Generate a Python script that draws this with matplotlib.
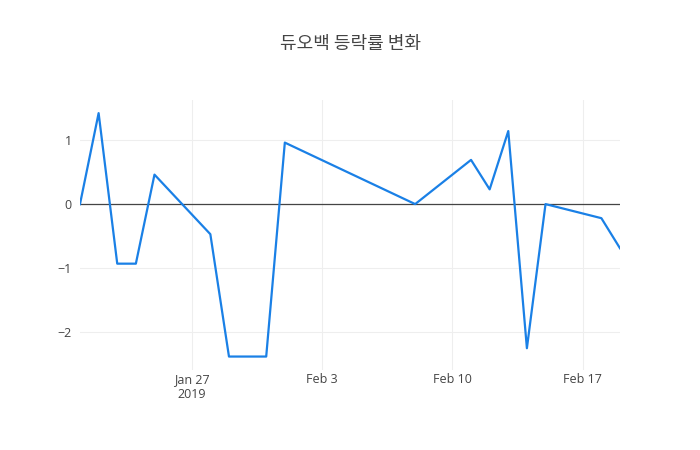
import matplotlib
matplotlib.use('Agg')
import matplotlib.pyplot as plt
import pandas as pd

dates = ['2019-01-21', '2019-01-22', '2019-01-23', '2019-01-24', '2019-01-25',
         '2019-01-28', '2019-01-29', '2019-01-31', '2019-02-01', '2019-02-08',
         '2019-02-11', '2019-02-12', '2019-02-13', '2019-02-14', '2019-02-15',
         '2019-02-18', '2019-02-19']
change = [0.0, 1.42, -0.93, -0.93, 0.46,
          -0.47, -2.38, -2.38, 0.96, 0.0,
          0.69, 0.23, 1.14, -2.25, 0.0,
          -0.22, -0.69]
tick_dates = ['2019-01-27', '2019-02-03', '2019-02-10', '2019-02-17']
tick_labels = ['Jan 27\n2019', 'Feb 3', 'Feb 10', 'Feb 17']
y_ticks = [-2, -1, 0, 1]

plt.rcParams['font.family'] = ['Open Sans', 'Noto Sans CJK KR', 'DejaVu Sans']

x = pd.to_datetime(dates)

fig = plt.figure(figsize=(7, 4.5), dpi=100)
ax = fig.add_axes([80 / 700, 1 - 370 / 450, 540 / 700, 270 / 450])

ax.plot(x, change, color='#1a80e6', linewidth=1.6, zorder=3)
ax.axhline(0, color='#444444', linewidth=0.9, zorder=2)

ax.set_xlim(x[0], x[-1])
ax.set_ylim(-2.59, 1.625)

ax.set_xticks(pd.to_datetime(tick_dates))
ax.set_xticklabels(tick_labels, linespacing=1.25)
ax.set_yticks(y_ticks)
ax.set_yticklabels(['\u22122', '\u22121', '0', '1'])

ax.grid(True, color='#eeeeee', linewidth=0.8, zorder=0)
for s in ax.spines.values():
    s.set_visible(False)
ax.tick_params(length=0, colors='#444444', labelsize=9)
ax.tick_params(axis='x', pad=2)
ax.tick_params(axis='y', pad=6)

fig.text(0.5, 1 - 44 / 450, '듀오백 등락률 변화', ha='center', va='center',
         fontsize=13, color='#444444', family=['Noto Sans CJK KR', 'DejaVu Sans'])

fig.savefig('out.png', dpi=100)
